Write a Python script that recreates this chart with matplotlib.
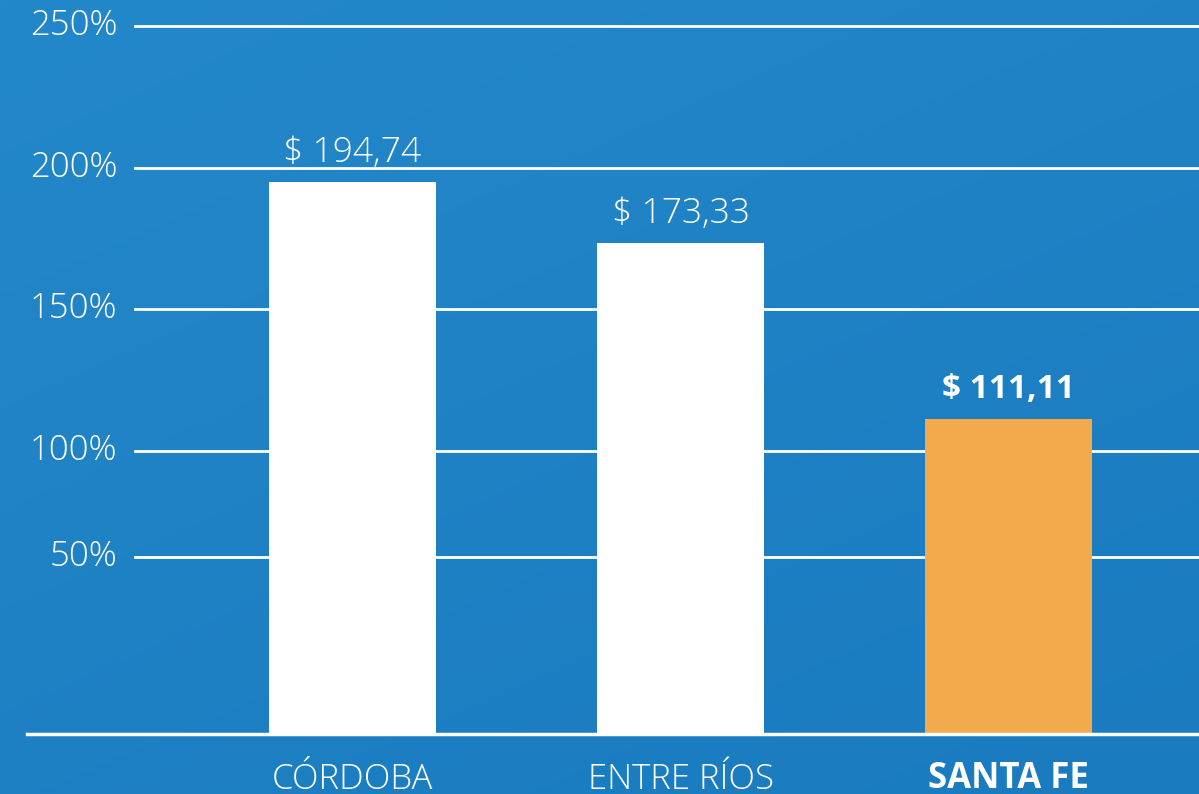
import numpy as np
import matplotlib
matplotlib.use("Agg")
import matplotlib.pyplot as plt
from matplotlib.colors import LinearSegmentedColormap

# data
provinces = ["CÓRDOBA", "ENTRE RÍOS", "SANTA FE"]
values = [194.74, 173.33, 111.11]
value_labels = ["$ 194,74", "$ 173,33", "$ 111,11"]
tick_values = [250, 200, 150, 100, 62.5]   # the "50%" line sits off-scale in the original
tick_labels = ["250%", "200%", "150%", "100%", "50%"]
highlight = "SANTA FE"

bg_top = "#2388CA"
bg_bottom = "#1A7BBF"
white = "#FFFFFF"
orange = "#F2AA4C"
font = "Open Sans"

W, H = 1199, 794
fig = plt.figure(figsize=(W / 100, H / 100), dpi=100)

# gradient background
bg = fig.add_axes([0, 0, 1, 1], zorder=-10)
cmap = LinearSegmentedColormap.from_list("bg", [bg_top, bg_bottom])
gy, gx = np.mgrid[0:1:200j, 0:1:300j]
bg.imshow(0.6 * gy + 0.4 * gx, cmap=cmap, aspect="auto", extent=[0, 1, 0, 1], origin="upper")
bg.axis("off")

x0_px, base_px, top_px = 27, 734, 26
ax = fig.add_axes([x0_px / W, 1 - base_px / H, 1 - x0_px / W, (base_px - top_px) / H])
ax.patch.set_visible(False)
for s in ax.spines.values():
    s.set_visible(False)
ax.set_xticks([])
ax.set_yticks([])
ax.set_ylim(0, 250)

step = 328.0
ax.set_xlim(-(352.5 - x0_px) / step, (W - 352.5) / step)

x = np.arange(len(provinces))
colors = [orange if p == highlight else white for p in provinces]
ax.bar(x, values, width=167 / step, color=colors, zorder=2)

# gridlines and tick labels
ytr = ax.get_yaxis_transform()
grid_start = (135 - x0_px) / (W - x0_px)
for v, lab in zip(tick_values, tick_labels):
    ax.plot([grid_start, 1], [v, v], color=white, lw=2, transform=ytr, zorder=1, clip_on=False)
    ax.text(grid_start - 0.015, v, lab, transform=ytr, ha="right", va="center",
            color=white, fontsize=25, family=font, fontweight="light")

# baseline
ax.plot([0, 1], [0, 0], color=white, lw=2.5, transform=ytr, zorder=3, clip_on=False)

# value and category labels
for xi, v, lab, p in zip(x, values, value_labels, provinces):
    bold = p == highlight
    ax.text(xi, v + 10.5, lab, ha="center", va="center", color=white,
            fontsize=24 if bold else 25.5,
            family=font, fontweight="bold" if bold else "light")
    ax.text(xi, -16, p, ha="center", va="center", color=white, fontsize=25,
            family=font, fontweight="bold" if bold else "light", clip_on=False)

fig.savefig("out.png", dpi=100)
